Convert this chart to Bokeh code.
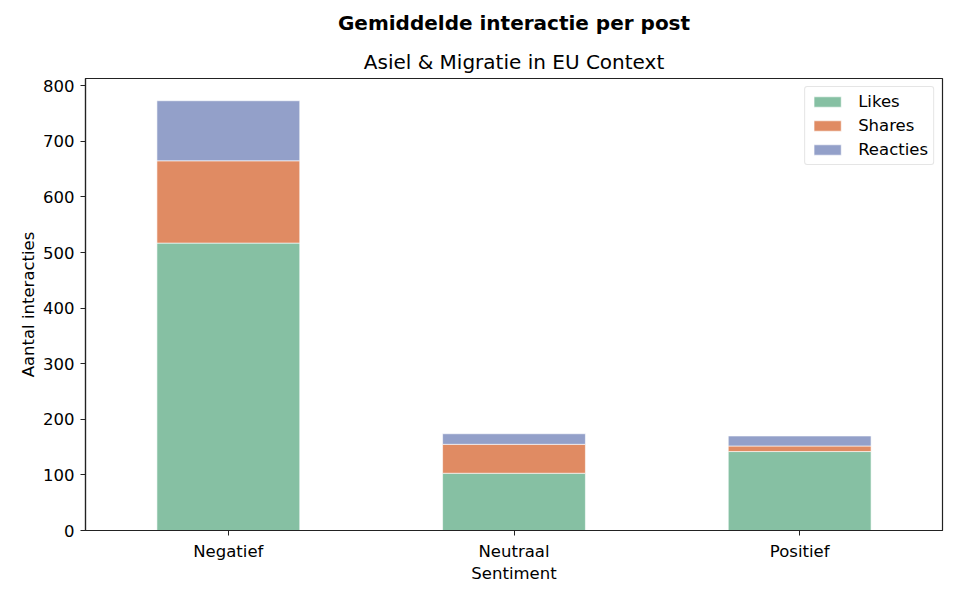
from bokeh.plotting import figure
from bokeh.models import Title, FixedTicker, Range1d, FactorRange, ColumnDataSource, Legend
from bokeh.embed import file_html
from bokeh.resources import INLINE

categories = ["Negatief", "Neutraal", "Positief"]
series = ["Likes", "Shares", "Reacties"]
likes = [517, 103, 142]
shares = [148, 52, 10]
reacties = [108, 19, 18]
colors = ["#86c0a3", "#e08b63", "#93a0c9"]
y_ticks = [0, 100, 200, 300, 400, 500, 600, 700, 800]

source = ColumnDataSource(data=dict(cat=categories, Likes=likes, Shares=shares, Reacties=reacties))

FONT = "DejaVu Sans"
TS = "16.5px"

p = figure(width=950, height=592, x_range=FactorRange(*categories, range_padding=0),
           y_range=Range1d(0, 813), output_backend="svg", toolbar_location=None,
           min_border_left=85, min_border_right=8, min_border_bottom=62, min_border_top=0)

p.title.text = "Gemiddelde interactie per post"
p.title.align = "center"
p.title.text_font = FONT
p.title.text_font_size = "20px"
p.title.text_font_style = "bold"
p.title.text_color = "black"
p.title.standoff = 17
p.add_layout(Title(text="Asiel & Migratie in EU Context", align="center", text_font=FONT,
                   text_font_size="20px", text_font_style="normal", text_color="black",
                   standoff=9), "above")

r = p.vbar_stack(series, x="cat", width=0.5, color=colors, source=source,
                 line_color="white", line_width=0.6)

legend = Legend(items=[(s, [rr]) for s, rr in zip(series, r)], location="top_right")
legend.label_text_font = FONT
legend.label_text_font_size = TS
legend.label_text_color = "black"
legend.glyph_width = 34
legend.glyph_height = 13
legend.spacing = 5
legend.border_line_color = "#cccccc"
legend.border_line_width = 1
legend.border_radius = 3
legend.padding = 5
legend.margin = 8
legend.label_standoff = 14
p.add_layout(legend)

p.xgrid.visible = False
p.ygrid.visible = False
p.outline_line_color = "#222222"
p.outline_line_width = 1.2

for ax in (p.xaxis, p.yaxis):
    ax.axis_line_color = "#222222"
    ax.axis_line_width = 1.2
    ax.major_tick_line_color = "#222222"
    ax.major_tick_in = 0
    ax.major_tick_out = 5
    ax.minor_tick_line_color = None
    ax.major_label_text_font = FONT
    ax.major_label_text_font_size = TS
    ax.major_label_text_color = "black"
    ax.major_label_standoff = 6
    ax.axis_label_text_font = FONT
    ax.axis_label_text_font_size = TS
    ax.axis_label_text_font_style = "normal"
    ax.axis_label_text_color = "black"

p.xaxis.axis_label_standoff = 0
p.yaxis.axis_label_standoff = 2

p.yaxis.ticker = FixedTicker(ticks=y_ticks)
p.yaxis.axis_label = "Aantal interacties"
p.xaxis.axis_label = "Sentiment"

open("out.html", "w").write(file_html(p, INLINE))
